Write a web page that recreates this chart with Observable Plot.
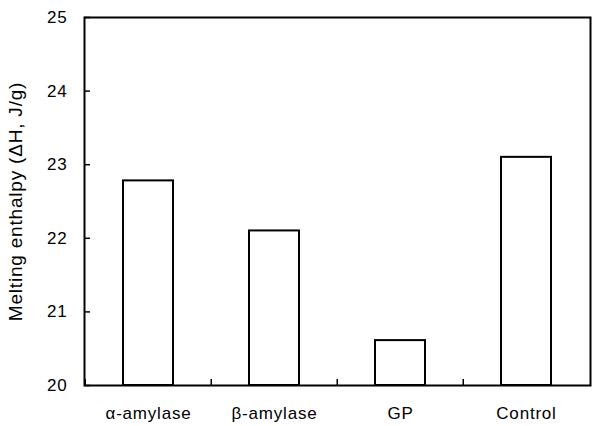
<!DOCTYPE html>
<html><head><meta charset="utf-8">
<script src="https://cdn.jsdelivr.net/npm/d3@7"></script>
<script src="https://cdn.jsdelivr.net/npm/@observablehq/plot@0.6"></script>
<style>body{margin:0;background:#fff;font-family:"Liberation Sans",Arial,sans-serif}
svg text{letter-spacing:0.8px}</style>
</head><body><div id="chart"></div>
<script>
const categories = ["α-amylase", "β-amylase", "GP", "Control"];
const values = [22.78, 22.1, 20.61, 23.1];
const yTicks = [20, 21, 22, 23, 24, 25];
const data = categories.map((c, i) => ({c, v: values[i]}));
const W = 592, H = 426, mL = 84, mR = 2, mT = 17, mB = 41;
const step = (W - mL - mR) / categories.length;
const chart = Plot.plot({
  width: W, height: H,
  marginLeft: mL, marginRight: mR, marginTop: mT, marginBottom: mB,
  style: {fontFamily: "Liberation Sans, Arial, sans-serif", fontSize: "17px", color: "#000", background: "#fff"},
  x: {domain: categories, paddingInner: 0.6, paddingOuter: 0.3, label: null},
  y: {domain: [20, 25], label: null},
  marks: [
    Plot.barY(data, {x: "c", y1: 20, y2: "v", fill: "white", stroke: "black", strokeWidth: 2}),
    Plot.axisY({ticks: yTicks, tickSize: 6, dx: 6, text: null, strokeWidth: 1.5}),
    Plot.axisY({ticks: yTicks, tickSize: 0, tickPadding: 17, fontSize: 17, tickFormat: d => String(d),
      label: null}),
    Plot.axisY({ticks: [], tickSize: 0, fontSize: 19,
      label: "Melting enthalpy (ΔH, J/g)", labelAnchor: "center", labelArrow: "none", labelOffset: 76}),
    Plot.axisX({tickSize: 6, dy: -6, dx: -step / 2, text: null, strokeWidth: 1.5}),
    Plot.axisX({tickSize: 0, tickPadding: 21, fontSize: 17}),
    Plot.frame({stroke: "black", strokeWidth: 2})
  ]
});
document.getElementById("chart").appendChild(chart);
</script></body></html>
